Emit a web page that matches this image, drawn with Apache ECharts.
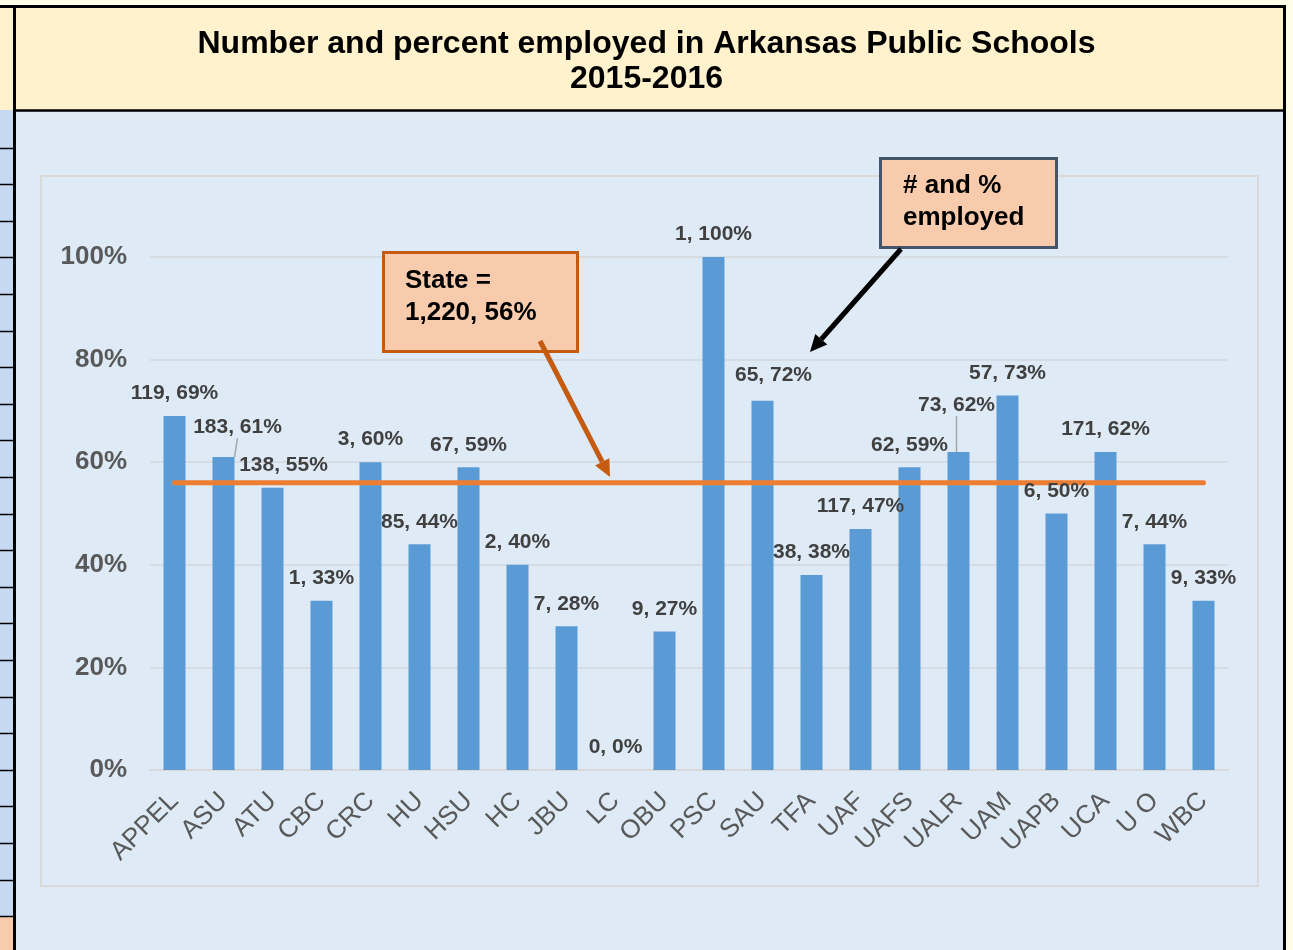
<!DOCTYPE html>
<html>
<head>
<meta charset="utf-8">
<title>Number and percent employed in Arkansas Public Schools 2015-2016</title>
<script src="https://cdn.jsdelivr.net/npm/echarts@6/dist/echarts.min.js"></script>
<style>
  html, body { margin: 0; padding: 0; background: #fffde8; }
  #main { width: 1293px; height: 950px; }
</style>
</head>
<body>
<div id="main"></div>
<script>
  // schools, number employed, percent employed
  var schools = ['APPEL', 'ASU', 'ATU', 'CBC', 'CRC', 'HU', 'HSU', 'HC', 'JBU', 'LC', 'OBU',
    'PSC', 'SAU', 'TFA', 'UAF', 'UAFS', 'UALR', 'UAM', 'UAPB', 'UCA', 'U O', 'WBC'];
  var employed = [119, 183, 138, 1, 3, 85, 67, 2, 7, 0, 9, 1, 65, 38, 117, 62, 73, 57, 6, 171, 7, 9];
  var percent = [69, 61, 55, 33, 60, 44, 59, 40, 28, 0, 27, 100, 72, 38, 47, 59, 62, 73, 50, 62, 44, 33];
  var stateCount = 1220;
  var statePercent = 56;
  var yTicks = [0, 20, 40, 60, 80, 100];

  var FONT = '"Liberation Sans", Arial, sans-serif';

  // labels that excel moved by hand (dataIndex -> [dx, dy])
  var labelShift = {1: [14, -7], 2: [11, 0], 12: [11, -3], 16: [-2, -24]};
  var leaderLines = [1, 16];

  var chart = echarts.init(document.getElementById('main'));

  function arrow(x1, y1, x2, y2, color) {
    var ang = Math.atan2(y2 - y1, x2 - x1);
    var len = 17, half = 8;
    var bx = x2 - len * Math.cos(ang), by = y2 - len * Math.sin(ang);
    var px = -Math.sin(ang) * half, py = Math.cos(ang) * half;
    return [
      {type: 'line', z: 100, shape: {x1: x1, y1: y1, x2: bx, y2: by},
        style: {stroke: color, lineWidth: 5}},
      {type: 'polygon', z: 100, shape: {points: [[x2, y2], [bx + px, by + py], [bx - px, by - py]]},
        style: {fill: color}}
    ];
  }

  function boxText(text, x, y) {
    return {type: 'text', z: 101, x: x, y: y,
      style: {text: text, fill: '#000', fontFamily: FONT, fontWeight: 'bold', fontSize: 26,
        verticalAlign: 'middle'}};
  }

  // sheet frame around the chart
  var frame = [
    {type: 'rect', z: -20, shape: {x: 0, y: 8, width: 14, height: 942}, style: {fill: '#C5D9F1'}},
    {type: 'rect', z: -20, shape: {x: 0, y: 8, width: 14, height: 102}, style: {fill: '#FFF2CC'}},
    {type: 'rect', z: -20, shape: {x: 0, y: 916, width: 14, height: 34}, style: {fill: '#F8CBAD'}},
    {type: 'rect', z: -20, shape: {x: 15, y: 7, width: 1269, height: 103}, style: {fill: '#FFF2CC'}},
    {type: 'rect', z: -20, shape: {x: 15, y: 111, width: 1269, height: 839}, style: {fill: '#DEEBF7'}}
  ];
  for (var k = 1; k <= 22; k++) {
    var ly = Math.round(111 + 36.6 * k) + 0.5;
    frame.push({type: 'line', z: -19, shape: {x1: 0, y1: ly, x2: 14, y2: ly},
      style: {stroke: '#000', lineWidth: 1.5}});
  }
  frame.push(
    {type: 'line', z: -18, shape: {x1: 0, y1: 6.5, x2: 1286, y2: 6.5}, style: {stroke: '#000', lineWidth: 3}},
    {type: 'line', z: -18, shape: {x1: 14.5, y1: 5, x2: 14.5, y2: 950}, style: {stroke: '#000', lineWidth: 3}},
    {type: 'line', z: -18, shape: {x1: 1284.5, y1: 5, x2: 1284.5, y2: 950}, style: {stroke: '#000', lineWidth: 3}},
    {type: 'line', z: -18, shape: {x1: 15, y1: 110.5, x2: 1284, y2: 110.5}, style: {stroke: '#000', lineWidth: 2.5}},
    {type: 'rect', z: -18, shape: {x: 41, y: 176, width: 1217, height: 710},
      style: {fill: null, stroke: '#D9D9D9', lineWidth: 2}}
  );

  // callouts
  var notes = [
    {type: 'rect', z: 99, shape: {x: 383.5, y: 252.5, width: 194, height: 99},
      style: {fill: '#F8CBAD', stroke: '#C55A11', lineWidth: 3}},
    boxText('State =', 405, 281),
    boxText(stateCount.toLocaleString('en-US') + ', ' + statePercent + '%', 405, 313),
    {type: 'rect', z: 99, shape: {x: 880.5, y: 158.5, width: 176, height: 89},
      style: {fill: '#F8CBAD', stroke: '#44546A', lineWidth: 3}},
    boxText('# and %', 903, 186),
    boxText('employed', 903, 218)
  ].concat(arrow(540, 341, 610, 477, '#C55A11'), arrow(901, 249, 810, 352, '#000'));

  var option = {
    animation: false,
    backgroundColor: 'transparent',
    textStyle: {fontFamily: FONT},
    title: {
      text: 'Number and percent employed in Arkansas Public Schools\n2015-2016',
      left: 'center',
      top: 22,
      textStyle: {fontSize: 32, fontWeight: 'bold', color: '#000', lineHeight: 35, fontFamily: FONT}
    },
    grid: {left: 150, right: 65, top: 257, bottom: 180},
    xAxis: {
      type: 'category',
      data: schools,
      axisTick: {show: false},
      axisLine: {lineStyle: {color: '#D9D9D9', width: 2}},
      axisLabel: {interval: 0, rotate: 45, margin: 27, color: '#595959', fontSize: 26, fontFamily: FONT}
    },
    yAxis: {
      type: 'value',
      min: yTicks[0],
      max: yTicks[yTicks.length - 1],
      interval: yTicks[1] - yTicks[0],
      axisLine: {show: false},
      axisTick: {show: false},
      splitLine: {lineStyle: {color: '#D6DCE4', width: 2}},
      axisLabel: {formatter: '{value}%', margin: 23, color: '#595959', fontSize: 26, fontWeight: 'bold',
        fontFamily: FONT}
    },
    series: [
      {
        type: 'bar',
        z: 2,
        barWidth: 22,
        data: percent,
        itemStyle: {color: '#5B9BD5'}
      },
      {
        type: 'line',
        z: 3,
        data: schools.map(function () { return statePercent; }),
        symbol: 'none',
        silent: true,
        lineStyle: {color: '#ED7D31', width: 5, cap: 'round'}
      },
      {
        // same bars again, invisible, only to carry the labels above the state line
        type: 'bar',
        z: 4,
        barWidth: 22,
        barGap: '-100%',
        silent: true,
        data: percent.map(function (v, i) {
          return {value: v, labelLine: {show: leaderLines.indexOf(i) >= 0}};
        }),
        itemStyle: {color: 'rgba(0,0,0,0)'},
        label: {
          show: true,
          position: 'top',
          distance: 12,
          color: '#404040',
          fontSize: 21,
          fontWeight: 'bold',
          fontFamily: FONT,
          formatter: function (p) {
            return employed[p.dataIndex] + ', ' + percent[p.dataIndex] + '%';
          }
        },
        labelLine: {show: false, lineStyle: {color: '#A6A6A6', width: 1.5}},
        labelLayout: function (p) {
          var s = labelShift[p.dataIndex];
          return s ? {dx: s[0], dy: s[1]} : {};
        }
      }
    ],
    graphic: frame.concat(notes)
  };

  chart.setOption(option);
</script>
</body>
</html>
